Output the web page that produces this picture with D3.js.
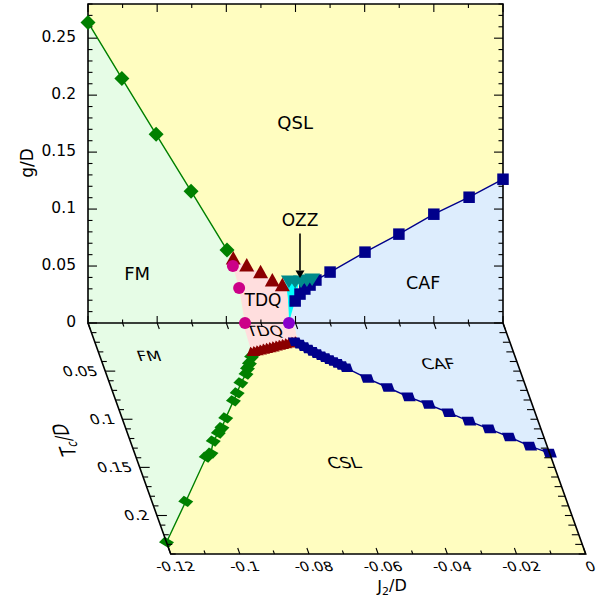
<!DOCTYPE html>
<html><head><meta charset="utf-8">
<script src="https://cdn.jsdelivr.net/npm/d3@7"></script>
<style>body{margin:0;background:#fff}svg{display:block}text{font-family:"DejaVu Sans",sans-serif;fill:#000}</style>
</head><body><svg id="c" width="605" height="600"></svg>
<script>
// ---------------- data ----------------
const j2TickLabels = [-0.12, -0.1, -0.08, -0.06, -0.04, -0.02, 0];
const gTickLabels = [0, 0.05, 0.1, 0.15, 0.2, 0.25];
const tcTickLabels = [0.05, 0.1, 0.15, 0.2];

// upper panel: g/D vs J2/D
const fmJ2 = [-0.1200, -0.1102, -0.1003, -0.0902, -0.0798];
const fmG  = [0.2638, 0.2147, 0.1656, 0.1157, 0.0640];
const tdqJ2 = [-0.0780, -0.0741, -0.0701, -0.0667, -0.0638];
const tdqG  = [0.0561, 0.0500, 0.0441, 0.0368, 0.0327];
const tdqCircJ2 = [-0.0781, -0.0763, -0.0746];
const tdqCircG  = [0.0500, 0.0307, 0.0000];
const critJ2 = [-0.0619];
const critG  = [0.0000];
const ozzJ2 = [-0.0619, -0.0601, -0.0584, -0.0567, -0.0552];
const ozzG  = [0.0368, 0.0364, 0.0368, 0.0377, 0.0386];
const cafJ2 = [-0.0601, -0.0587, -0.0573, -0.0558, -0.0541, -0.0500, -0.0399, -0.0301, -0.0200, -0.0098, 0.0000];
const cafG  = [0.0193, 0.0254, 0.0298, 0.0333, 0.0377, 0.0447, 0.0622, 0.0780, 0.0955, 0.1104, 0.1262];

// lower panel: Tc/D vs J2/D
const fmTcJ2 = [-0.1200, -0.1102, -0.0997, -0.0979, -0.0960, -0.0937, -0.0921, -0.0900, -0.0860, -0.0841, -0.0820, -0.0796, -0.0786, -0.0775, -0.0762];
const fmTc   = [0.2278, 0.1854, 0.1393, 0.1351, 0.1226, 0.1143, 0.1086, 0.0986, 0.0809, 0.0726, 0.0622, 0.0531, 0.0472, 0.0420, 0.0351];
const tdqTcJ2 = [-0.0755, -0.0745, -0.0735, -0.0725, -0.0715, -0.0705, -0.0695, -0.0685, -0.0675, -0.0665, -0.0655, -0.0645, -0.0635, -0.0625, -0.0615];
const tdqTc   = [0.0300, 0.0293, 0.0285, 0.0277, 0.0268, 0.0260, 0.0252, 0.0244, 0.0236, 0.0228, 0.0220, 0.0212, 0.0205, 0.0198, 0.0192];
const cafTcJ2 = [-0.062, -0.061, -0.060, -0.059, -0.058, -0.057, -0.056, -0.055, -0.054, -0.053, -0.052, -0.051, -0.050, -0.045, -0.040, -0.035, -0.030, -0.025, -0.020, -0.015, -0.010, -0.005, 0.000];
const cafTc   = [0.0195, 0.0220, 0.0245, 0.0270, 0.0295, 0.0318, 0.0340, 0.0360, 0.0380, 0.0400, 0.0420, 0.0442, 0.0465, 0.0576, 0.0670, 0.0768, 0.0847, 0.0932, 0.1019, 0.1100, 0.1184, 0.1279, 0.1352];

// ---------------- setup ----------------
const svg = d3.select("#c");
const COL = {qsl:"#fffdc0", fm:"#e6fce6", caf:"#ddedfd", tdq:"#ffdede", cyan:"#00ffff",
  green:"#008000", red:"#8b0000", mag:"#cc0088", purple:"#8800cc", teal:"#008b8b", navy:"#00008b"};
const x = d3.scaleLinear().domain([-0.12, 0]).range([88, 503]);
const yG = d3.scaleLinear().domain([0, 0.28]).range([323, 4]);
const SY = 0.75, SHEAR = 0.358;
const yT = d3.scaleLinear().domain([0, 0.24]).range([0, 231 / SY]);
const ang = Math.atan(SHEAR) * 180 / Math.PI;

const zip = (a, b) => a.map((v, i) => [v, b[i]]);
const DIAM = "M0,-7.5L7.5,0L0,7.5L-7.5,0Z";
const SQ = "M-5.75,-5.75h11.5v11.5h-11.5Z";
const TRI = "M0,-8L7.5,5.5L-7.5,5.5Z";
const LTRI = "M0,-7L7,5.5L-7,5.5Z";
const ITRI = "M-8,-5.5L8,-5.5L0,7Z";

function poly(g, pts, fill, sx, sy) {
  g.append("path").attr("d", d3.line().x(d => sx(d[0])).y(d => sy(d[1]))(pts) + "Z")
    .attr("fill", fill).attr("stroke", "none");
}
function line(g, pts, col, sx, sy) {
  g.append("path").attr("d", d3.line().x(d => sx(d[0])).y(d => sy(d[1]))(pts))
    .attr("fill", "none").attr("stroke", col).attr("stroke-width", 1.4)
    .attr("vector-effect", "non-scaling-stroke");
}
function marks(g, pts, shape, col, sx, sy) {
  g.selectAll(null).data(pts).enter().append("path")
    .attr("d", shape).attr("fill", col)
    .attr("transform", d => `translate(${sx(d[0])},${sy(d[1])})`);
}

// ---------------- lower panel (tilted plane) ----------------
const lo = svg.append("g").attr("transform", `translate(0,323) skewX(${ang}) scale(1,${SY})`);
lo.append("rect").attr("x", x(-0.12)).attr("y", yT(0)).attr("width", x(0) - x(-0.12))
  .attr("height", yT(0.24) - yT(0)).attr("fill", COL.qsl);
poly(lo, [[-0.12, 0], ...zip(fmTcJ2, fmTc), [-0.0753, 0.028], [-0.0752, 0]], COL.fm, x, yT);
poly(lo, [[-0.0605, 0], [0, 0], [0, cafTc[cafTc.length - 1]], ...zip(cafTcJ2, cafTc).reverse(), [-0.0612, 0.0177]], COL.caf, x, yT);
poly(lo, [[-0.0752, 0], [-0.0605, 0], [-0.0612, 0.0177], ...zip(tdqTcJ2, tdqTc).reverse(), [-0.0757, 0.029]], COL.tdq, x, yT);

line(lo, zip(fmTcJ2, fmTc), COL.green, x, yT);
line(lo, zip(cafTcJ2, cafTc), COL.navy, x, yT);
marks(lo, zip(fmTcJ2, fmTc), DIAM, COL.green, x, yT);
marks(lo, zip(tdqTcJ2, tdqTc), LTRI, COL.red, x, yT);
marks(lo, zip(cafTcJ2, cafTc), SQ, COL.navy, x, yT);

const Lb = yT(0.24);
lo.append("path").attr("d", `M${x(-0.12)},${yT(0)}V${Lb}H${x(0)}V${yT(0)}`)
  .attr("fill", "none").attr("stroke", "#000").attr("stroke-width", 1.6).attr("vector-effect", "non-scaling-stroke");
const tick = (g, x1, y1, x2, y2) => g.append("line").attr("x1", x1).attr("y1", y1).attr("x2", x2).attr("y2", y2)
  .attr("stroke", "#000").attr("stroke-width", 1.1).attr("vector-effect", "non-scaling-stroke");
const j2Ticks = x.ticks(12);
const isMajJ = v => Math.abs(Math.round(v * 100)) % 2 === 0;
j2Ticks.forEach(v => {
  const L = isMajJ(v) ? 6 : 3.5;
  tick(lo, x(v), Lb, x(v), Lb - L / SY);
  tick(lo, x(v), 0, x(v), L / SY);
});
yT.ticks(24).forEach(v => {
  if (v <= 0) return;
  const maj = Math.round(v * 100) % 5 === 0;
  tick(lo, x(-0.12), yT(v), x(-0.12) + (maj ? 10 : 5), yT(v));
  tick(lo, x(0), yT(v), x(0) - 7, yT(v));
});
function ltext(g, px, py, s, size, anchor) {
  return g.append("text").attr("transform", `translate(${px},${py}) scale(1,1.15)`)
    .attr("text-anchor", anchor || "middle").attr("dy", "0.36em").attr("font-size", size).text(s);
}
tcTickLabels.forEach(v => ltext(lo, x(-0.12) - 8, yT(v), String(v), 15.5, "end"));
j2TickLabels.forEach(v => ltext(lo, x(v), Lb + 17, v === 0 ? "0" : String(v), 15, "middle"));
ltext(lo, x(-0.1058), yT(0.0344), "FM", 16.5);
ltext(lo, x(-0.0230), yT(0.0427), "CAF", 17);
ltext(lo, x(-0.0604), yT(0.1448), "CSL", 17.5);
ltext(lo, x(-0.0697), yT(0.0083), "TDQ", 16.5);
const tcl = lo.append("text").attr("transform", `translate(22,${yT(0.1216)}) rotate(-90)`)
  .attr("text-anchor", "middle").attr("dy", "0.36em").attr("font-size", 21);
tcl.append("tspan").text("T");
tcl.append("tspan").attr("font-size", 14).attr("dy", "0.3em").text("c");
tcl.append("tspan").attr("dy", "-0.2em").text("/D");

// ---------------- upper panel ----------------
const up = svg.append("g");
up.append("rect").attr("x", x(-0.12)).attr("y", yG(0.28)).attr("width", x(0) - x(-0.12))
  .attr("height", yG(0) - yG(0.28)).attr("fill", COL.qsl);
poly(up, [[-0.12, 0], ...zip(fmJ2, fmG), ...zip(tdqCircJ2, tdqCircG)], COL.fm, x, yG);
poly(up, [[-0.0619, 0], [0, 0], [0, cafG[cafG.length - 1]], ...zip(cafJ2, cafG).reverse(), [-0.0612, 0.008]], COL.caf, x, yG);
poly(up, [[-0.0630, 0.0362], [-0.0590, 0.0362], [-0.0601, 0.0193], [-0.0612, 0.008], [-0.0619, 0], [-0.0622, 0.02]], COL.cyan, x, yG);
poly(up, [[fmJ2[fmJ2.length - 1], fmG[fmG.length - 1]], ...zip(tdqJ2, tdqG), [-0.0626, 0.034], [-0.0622, 0.02], [-0.0619, 0],
  ...zip(tdqCircJ2, tdqCircG).reverse()], COL.tdq, x, yG);

line(up, zip(fmJ2, fmG), COL.green, x, yG);
line(up, zip(cafJ2, cafG), COL.navy, x, yG);

up.append("path").attr("d", `M${x(-0.12)},${yG(0)}V${yG(0.28)}H${x(0)}V${yG(0)}Z`)
  .attr("fill", "none").attr("stroke", "#000").attr("stroke-width", 1.6);
j2Ticks.forEach(v => {
  const L = isMajJ(v) ? 8 : 4;
  tick(up, x(v), yG(0.28), x(v), yG(0.28) + L);
  tick(up, x(v), yG(0), x(v), yG(0) - (isMajJ(v) ? 7 : 3.5));
});
yG.ticks(28).forEach(v => {
  const maj = Math.round(v * 100) % 5 === 0;
  const L = maj ? 9 : 4.5;
  tick(up, x(-0.12), yG(v), x(-0.12) + L, yG(v));
  tick(up, x(0), yG(v), x(0) - L, yG(v));
});
gTickLabels.forEach(v => up.append("text").attr("x", x(-0.12) - 12).attr("y", yG(v) - 2)
  .attr("dy", "0.36em").attr("text-anchor", "end").attr("font-size", 15.5).text(String(v)));
up.append("text").attr("transform", `translate(27,163) rotate(-90)`).attr("text-anchor", "middle")
  .attr("dy", "0.36em").attr("font-size", 17).text("g/D");

marks(up, zip(fmJ2, fmG), DIAM, COL.green, x, yG);
marks(up, zip(cafJ2, cafG), SQ, COL.navy, x, yG);
marks(up, zip(ozzJ2, ozzG), ITRI, COL.teal, x, yG);
marks(up, zip(tdqJ2, tdqG), TRI, COL.red, x, yG);
up.selectAll(null).data(zip(tdqCircJ2, tdqCircG)).enter().append("circle")
  .attr("cx", d => x(d[0])).attr("cy", d => yG(d[1])).attr("r", 6).attr("fill", COL.mag);
up.selectAll(null).data(zip(critJ2, critG)).enter().append("circle")
  .attr("cx", d => x(d[0])).attr("cy", d => yG(d[1])).attr("r", 6).attr("fill", COL.purple);

const utext = (j, g, s, size) => up.append("text").attr("x", x(j)).attr("y", yG(g)).attr("dy", "0.36em")
  .attr("text-anchor", "middle").attr("font-size", size).text(s);
utext(-0.0601, 0.176, "QSL", 18);
utext(-0.1058, 0.0438, "FM", 18);
utext(-0.0231, 0.0351, "CAF", 17.5);
utext(-0.0694, 0.0202, "TDQ", 17);
utext(-0.0587, 0.0903, "OZZ", 17);
up.append("line").attr("x1", x(-0.0587)).attr("y1", yG(0.0785)).attr("x2", x(-0.0587)).attr("y2", yG(0.046))
  .attr("stroke", "#000").attr("stroke-width", 1.6);
up.append("path").attr("d", `M${x(-0.0587) - 4.5},${yG(0.046)}L${x(-0.0587) + 4.5},${yG(0.046)}L${x(-0.0587)},${yG(0.0395)}Z`)
  .attr("fill", "#000");

const jt = svg.append("text").attr("x", 392).attr("y", 592).attr("text-anchor", "middle").attr("font-size", 16);
jt.append("tspan").text("J");
jt.append("tspan").attr("font-size", 11).attr("dy", "0.3em").text("2");
jt.append("tspan").attr("dy", "-0.3em").text("/D");
</script></body></html>
